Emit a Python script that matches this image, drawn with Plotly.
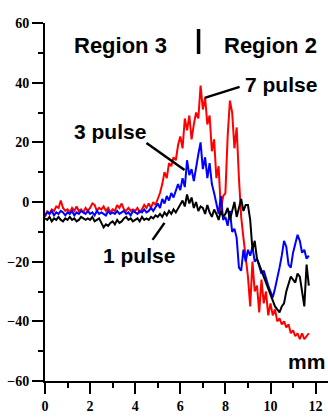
import plotly.graph_objects as go

# Sampling positions along the scan (mm)
X_MM = [0.0, 0.1, 0.2, 0.3, 0.4, 0.5, 0.6, 0.7, 0.8, 0.9,
        1.0, 1.1, 1.2, 1.3, 1.4, 1.5, 1.6, 1.7, 1.8, 1.9,
        2.0, 2.1, 2.2, 2.3, 2.4, 2.5, 2.6, 2.7, 2.8, 2.9,
        3.0, 3.1, 3.2, 3.3, 3.4, 3.5, 3.6, 3.7, 3.8, 3.9,
        4.0, 4.1, 4.2, 4.3, 4.4, 4.5, 4.6, 4.7, 4.8, 4.9,
        5.0, 5.1, 5.2, 5.3, 5.4, 5.5, 5.6, 5.7, 5.8, 5.9,
        6.0, 6.1, 6.2, 6.3, 6.4, 6.5, 6.6, 6.7, 6.8, 6.9,
        7.0, 7.1, 7.2, 7.3, 7.4, 7.5, 7.6, 7.7, 7.8, 7.9,
        8.0, 8.1, 8.2, 8.3, 8.4, 8.5, 8.6, 8.7, 8.8, 8.9,
        9.0, 9.1, 9.2, 9.3, 9.4, 9.5, 9.6, 9.7, 9.8, 9.9,
        10.0, 10.1, 10.2, 10.3, 10.4, 10.5, 10.6, 10.7, 10.8, 10.9,
        11.0, 11.1, 11.2, 11.3, 11.4, 11.5, 11.6, 11.7]

# Surface height (micrometres)
PULSE_1 = [-5.5, -6, -5, -6.5, -5.5, -6, -5, -6, -6.5, -5.5,
           -6, -5, -6, -5.5, -6.5, -6, -5, -5.5, -6, -5.5,
           -6, -5, -6.5, -6, -5.5, -7, -8.5, -7.5, -8, -7,
           -6.5, -7.5, -6, -7, -6.5, -5.5, -5, -6, -5.5, -6.5,
           -6, -5.5, -6.5, -5, -6, -5.5, -6, -5, -5.5, -4.5,
           -5, -4, -5, -3.5, -4.5, -3, -4, -2.5, -3.5, -2,
           -1, 0.5, -1.5, 2.5, -0.5, 1.5, -2, 0, -3, -1.5,
           -2, -4, -1, -3.5, -5, -2.5, -4, -6, -3, -5,
           -4, -2, -6, -3, 0, -5, -2, 1, -3, -1,
           -1, -6, -16, -13, -19, -21, -23, -25, -27, -29,
           -31, -33, -35, -36, -37, -35, -34, -30, -27, -25,
           -26, -27, -24, -25, -30, -35, -21, -28]

PULSE_3 = [-4.5, -3.5, -4, -3, -4.5, -3.5, -4, -3, -3.5, -4.5,
           -3.5, -4, -3, -4.5, -3.5, -4, -3, -3.5, -4, -3,
           -4, -3.5, -4.5, -3, -4, -3.5, -4, -4.5, -3, -4,
           -3.5, -4, -3, -4, -3.5, -3, -4, -3.5, -4.5, -3,
           -3.5, -4, -3, -3.5, -2.5, -3.5, -3, -2, -3, -1.5,
           -0.5, -2, 1, -0.5, 2, 0.5, 3, 1.5, 4, 6,
           4, 8, 5, 14, 9, 11, 7, 12, 16, 20,
           11, 15, 8, 13, 6, 3, -1, -4, 2, -6,
           -5, -8, -3, -10, -9, -12, -22, -23, -16, -20,
           -16, -18, -15, -20, -19, -22, -24, -23, -26, -28,
           -30, -32, -29, -26, -22, -18, -13, -15, -21, -22,
           -17, -14, -11, -13, -17, -16, -19, -18]

PULSE_7 = [-5, -3, -4, -2.5, -3, -1.5, -2, 0.5, -2, -3,
           -2.5, -3.5, -2, -3, -1.5, -3, -2.5, -3.5, -2, -3,
           -2, -0.5, -1, -3, -2, -2.5, -1.5, -3, -2, -3.5,
           -2.5, -3, -1, -2, -0.5, -2.5, -3, -2, -3, -2.5,
           -3, -2, -3.5, -2.5, -1, -2, -0.5, -2, 0, -1,
           1, 3, 6, 10, 8, 13, 12, 15, 14, 19,
           22, 18, 28, 24, 29, 21, 26, 30, 28, 39,
           31, 35, 26, 29, 17, 21, 8, 12, -3, 2,
           3, 22, 34, 30, 18, 25, 8, -5, -12, -18,
           -25, -35, -20, -30, -28, -37, -26, -34, -30, -38,
           -34, -38, -36, -40, -39, -41, -40, -42, -41, -44,
           -43, -45, -44, -46, -44, -46, -45, -44]

X_TICKS = [0, 2, 4, 6, 8, 10, 12]
Y_TICKS = [-60, -40, -20, 0, 20, 40, 60]

fig = go.Figure()
fig.add_trace(go.Scatter(x=X_MM, y=PULSE_7, mode="lines", name="7 pulse",
                         line=dict(color="#ff0000", width=2)))
fig.add_trace(go.Scatter(x=X_MM, y=PULSE_3, mode="lines", name="3 pulse",
                         line=dict(color="#0000ff", width=2)))
fig.add_trace(go.Scatter(x=X_MM, y=PULSE_1, mode="lines", name="1 pulse",
                         line=dict(color="#000000", width=2)))

tickfont = dict(family="Liberation Serif", size=14, color="black", weight="bold")
axis_common = dict(showline=True, linecolor="black", linewidth=2, showgrid=False,
                   zeroline=False, ticks="outside", ticklen=11, tickwidth=2,
                   tickcolor="black", tickfont=tickfont)

fig.update_layout(
    width=328, height=419,
    margin=dict(l=45, r=0, t=23, b=38, autoexpand=False),
    paper_bgcolor="white", plot_bgcolor="white",
    showlegend=False,
    xaxis=dict(range=[0, 12.55], tickvals=X_TICKS, **axis_common,
               minor=dict(dtick=1, tick0=0, ticklen=5, tickwidth=2,
                          ticks="outside", tickcolor="black")),
    yaxis=dict(range=[-60, 60], tickvals=Y_TICKS, **axis_common,
               minor=dict(dtick=10, tick0=0, ticklen=5, tickwidth=2,
                          ticks="outside", tickcolor="black")),
)

sans = dict(family="Liberation Sans", size=22, color="black")
labels = [
    ("<b>Region 3</b>", 3.35, 52.3, sans),
    ("<b>Region 2</b>", 10.0, 52.3, sans),
    ("<b>7 pulse</b>", 10.47, 39.4, dict(sans, size=21)),
    ("<b>3 pulse</b>", 2.9, 23.8, dict(sans, size=21)),
    ("<b>1 pulse</b>", 4.19, -17.9, dict(sans, size=21)),
    ("<b>mm</b>", 11.6, -53.4, dict(sans, size=21)),
    ("<b>\u03bc m</b>", 1.29, 63.0, dict(family="Liberation Serif", size=19, color="black")),
]
for text, x, y, f in labels:
    fig.add_annotation(x=x, y=y, xref="x", yref="y", text=text, showarrow=False,
                       font=f, xanchor="center", yanchor="middle")

# pointer lines and region divider
for x0, y0, x1, y1, w in [(8.63, 38.6, 7.08, 34.9, 2.5),
                          (4.5, 19.8, 6.19, 10.7, 2.5),
                          (4.77, -12.7, 5.3, -7.0, 2.5),
                          (6.81, 49.6, 6.81, 58.0, 3.5)]:
    fig.add_shape(type="line", x0=x0, y0=y0, x1=x1, y1=y1, xref="x", yref="y",
                  line=dict(color="black", width=w))

page_fix = ("document.body.style.margin='0';"
            "document.body.style.overflow='hidden';"
            "document.documentElement.style.overflow='hidden';")
fig.write_html("out.html", post_script=page_fix,
               config={"displayModeBar": False, "staticPlot": True})
